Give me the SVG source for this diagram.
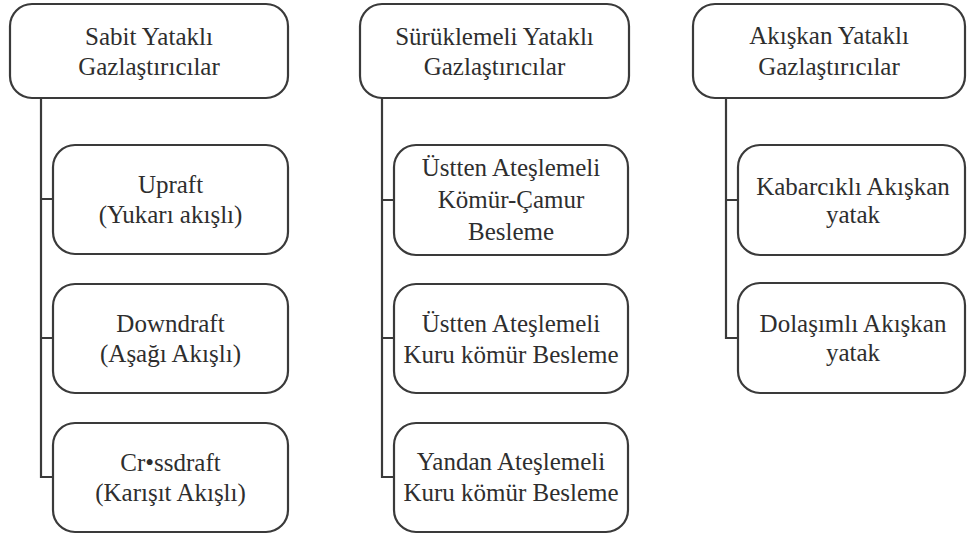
<svg xmlns="http://www.w3.org/2000/svg" width="967" height="537" viewBox="0 0 967 537">
<style>
.box{fill:#fff;stroke:#3a3a3a;stroke-width:2.2}
.t{font-size:25px;fill:#2e2e2e;text-anchor:middle}
.c{fill:none;stroke:#3a3a3a;stroke-width:2.2}
</style>
<rect width="967" height="537" fill="#fff"/>
<g id="connectors">
<path class="c" d="M41 98V477H53M41 199H53M41 338H53"/>
<path class="c" d="M382 98V477H394M382 200H394M382 338H394"/>
<path class="c" d="M726 98V338H738M726 200H738"/>
</g>
<g font-family="Liberation Serif, DejaVu Serif, serif">
<g id="sabit">
<rect class="box" x="10" y="4" width="278" height="94" rx="22"/>
<text class="t" x="149" y="45">Sabit Yataklı</text>
<text class="t" x="149" y="75">Gazlaştırıcılar</text>
</g>
<g id="upraft">
<rect class="box" x="53" y="145" width="235" height="109" rx="22"/>
<text class="t" x="170.5" y="193">Upraft</text>
<text class="t" x="170.5" y="223">(Yukarı akışlı)</text>
</g>
<g id="downdraft">
<rect class="box" x="53" y="284" width="235" height="109" rx="22"/>
<text class="t" x="170.5" y="332">Downdraft</text>
<text class="t" x="170.5" y="362">(Aşağı Akışlı)</text>
</g>
<g id="crossdraft">
<rect class="box" x="53" y="423" width="235" height="109" rx="22"/>
<text class="t" x="170.5" y="471">Cr•ssdraft</text>
<text class="t" x="170.5" y="501">(Karışıt Akışlı)</text>
</g>
<g id="suruklemeli">
<rect class="box" x="360" y="4" width="269" height="94" rx="22"/>
<text class="t" x="494.5" y="45">Sürüklemeli Yataklı</text>
<text class="t" x="494.5" y="75">Gazlaştırıcılar</text>
</g>
<g id="ustten-camur">
<rect class="box" x="394" y="145" width="234" height="110" rx="22"/>
<text class="t" x="511" y="176">Üstten Ateşlemeli</text>
<text class="t" x="511" y="208">Kömür-Çamur</text>
<text class="t" x="511" y="240">Besleme</text>
</g>
<g id="ustten-kuru">
<rect class="box" x="394" y="284" width="234" height="109" rx="22"/>
<text class="t" x="511" y="332">Üstten Ateşlemeli</text>
<text class="t" x="511" y="363">Kuru kömür Besleme</text>
</g>
<g id="yandan-kuru">
<rect class="box" x="394" y="423" width="234" height="109" rx="22"/>
<text class="t" x="511" y="470">Yandan Ateşlemeli</text>
<text class="t" x="511" y="501">Kuru kömür Besleme</text>
</g>
<g id="akiskan">
<rect class="box" x="693" y="4" width="272" height="94" rx="22"/>
<text class="t" x="829" y="44">Akışkan Yataklı</text>
<text class="t" x="829" y="75">Gazlaştırıcılar</text>
</g>
<g id="kabarcikli">
<rect class="box" x="738" y="145" width="227" height="110" rx="22"/>
<text class="t" x="853" y="195">Kabarcıklı Akışkan</text>
<text class="t" x="853" y="223">yatak</text>
</g>
<g id="dolasimli">
<rect class="box" x="738" y="283" width="227" height="110" rx="22"/>
<text class="t" x="853" y="332">Dolaşımlı Akışkan</text>
<text class="t" x="853" y="361">yatak</text>
</g>
</g>
</svg>
